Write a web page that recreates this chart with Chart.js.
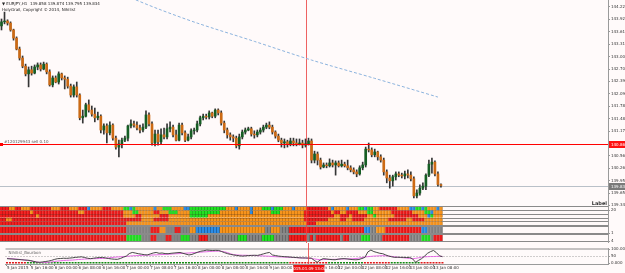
<!DOCTYPE html>
<html>
<head>
<meta charset="utf-8">
<script src="https://cdn.jsdelivr.net/npm/chart.js@4.4.1/dist/chart.umd.min.js"></script>
<style>
html, body { margin: 0; padding: 0; background: #fffafa; }
#wrap { position: relative; width: 625px; height: 273px; overflow: hidden; background: #fffafa; }
#wrap canvas { position: absolute; left: 0; }
</style>
</head>
<body>
<div id="wrap">
	<canvas id="main" width="625" height="206" style="top:0"></canvas>
	<canvas id="heat" width="625" height="37" style="top:206px"></canvas>
	<canvas id="osc" width="625" height="30" style="top:243px"></canvas>
</div>
<script>
// EURJPY H1 candles
var opens = [
	143.76,143.86,143.88,143.83,143.66,143.46,143.19,142.97,142.77,142.58,
	142.68,142.60,142.75,142.80,142.70,142.82,142.63,142.31,142.48,142.38,
	142.58,142.48,142.45,142.28,142.06,142.26,142.06,141.50,141.54,141.82,
	141.69,141.59,141.50,141.54,141.20,141.30,141.13,141.32,141.00,140.78,
	140.86,140.95,141.00,141.30,141.35,141.32,141.25,141.20,141.27,141.57,
	141.35,140.88,141.10,140.91,141.08,141.03,141.23,141.27,141.08,140.95,
	141.32,141.13,140.95,141.03,141.18,141.20,141.35,141.50,141.54,141.52,
	141.62,141.54,141.69,141.62,141.37,141.20,141.08,141.03,141.00,140.81,
	141.03,141.15,141.20,141.23,141.10,141.08,141.15,141.20,141.27,141.32,
	141.27,141.15,141.05,140.95,140.88,140.91,140.86,140.93,140.88,140.86,
	140.88,140.83,140.86,140.93,140.46,140.61,140.46,140.29,140.34,140.32,
	140.39,140.34,140.39,140.32,140.36,140.32,140.27,140.22,140.17,140.12,
	140.27,140.34,140.73,140.71,140.59,140.66,140.54,140.46,140.17,140.02,
	139.95,140.05,140.12,140.09,140.07,140.12,140.09,140.00,139.58,139.65,
	139.77,139.82,140.09,140.36,140.41,140.12,139.858
];
var highs = [
	143.93,144.10,143.91,143.86,143.68,143.49,143.24,143.02,142.82,142.75,
	142.77,142.80,142.85,142.85,142.87,142.85,142.68,142.53,142.53,142.63,
	142.60,142.53,142.50,142.33,142.31,142.38,142.09,141.69,141.86,141.94,
	141.79,141.74,141.64,141.57,141.35,141.35,141.40,141.35,141.05,140.95,
	141.00,141.05,141.32,141.45,141.42,141.40,141.32,141.35,141.67,141.62,
	141.40,141.20,141.20,141.23,141.25,141.35,141.40,141.32,141.20,141.37,
	141.37,141.18,141.10,141.23,141.25,141.42,141.54,141.59,141.59,141.67,
	141.64,141.72,141.72,141.67,141.42,141.25,141.13,141.08,141.05,141.10,
	141.20,141.25,141.27,141.27,141.18,141.20,141.25,141.32,141.37,141.40,
	141.32,141.18,141.10,141.00,140.98,140.95,141.00,141.00,140.98,140.98,
	140.95,140.98,141.00,140.98,140.68,140.66,140.51,140.39,140.39,140.49,
	140.46,140.44,140.44,140.46,140.41,140.46,140.32,140.27,140.22,140.32,
	140.41,140.78,140.88,140.76,140.73,140.68,140.59,140.51,140.22,140.09,
	140.09,140.17,140.17,140.14,140.19,140.22,140.17,140.05,139.73,139.85,
	139.90,140.12,140.46,140.51,140.44,140.17,139.874
];
var lows = [
	143.66,143.81,143.78,143.63,143.41,143.17,142.92,142.73,142.53,142.26,
	142.55,142.58,142.68,142.65,142.68,142.58,142.28,142.26,142.36,142.33,
	142.43,142.21,142.23,142.01,142.01,142.01,141.45,141.37,141.52,141.64,
	141.54,141.40,141.45,141.13,141.10,140.88,141.08,140.95,140.73,140.54,
	140.76,140.91,140.93,141.25,141.27,141.20,141.13,141.15,141.23,141.30,
	140.83,140.81,140.83,140.86,140.98,140.98,141.15,141.03,140.93,140.93,
	141.08,140.91,140.93,140.98,141.10,141.15,141.30,141.45,141.47,141.47,
	141.50,141.50,141.57,141.32,141.13,141.00,140.95,140.91,140.76,140.73,
	140.98,141.10,141.18,141.05,141.00,141.03,141.10,141.15,141.23,141.23,
	141.10,141.00,140.91,140.78,140.76,140.78,140.81,140.81,140.81,140.83,
	140.76,140.78,140.83,140.39,140.39,140.34,140.24,140.27,140.27,140.29,
	140.29,140.09,140.29,140.29,140.29,140.22,140.17,140.12,140.05,140.09,
	140.22,140.29,140.66,140.54,140.54,140.46,140.41,140.09,139.90,139.77,
	139.82,139.97,140.05,140.02,140.00,140.02,139.95,139.53,139.53,139.60,
	139.73,139.73,140.05,140.14,140.07,139.82,139.795
];
var closes = [
	143.86,143.88,143.83,143.66,143.46,143.19,142.97,142.77,142.58,142.68,
	142.60,142.75,142.80,142.70,142.82,142.63,142.31,142.48,142.38,142.58,
	142.48,142.45,142.28,142.06,142.26,142.06,141.50,141.54,141.82,141.69,
	141.59,141.50,141.54,141.20,141.30,141.13,141.32,141.00,140.78,140.86,
	140.95,141.00,141.30,141.35,141.32,141.25,141.20,141.27,141.57,141.35,
	140.88,141.10,140.91,141.08,141.03,141.23,141.27,141.08,140.95,141.32,
	141.13,140.95,141.03,141.18,141.20,141.35,141.50,141.54,141.52,141.62,
	141.54,141.69,141.62,141.37,141.20,141.08,141.03,141.00,140.81,141.03,
	141.15,141.20,141.23,141.10,141.08,141.15,141.20,141.27,141.32,141.27,
	141.15,141.05,140.95,140.88,140.91,140.86,140.93,140.88,140.86,140.88,
	140.83,140.86,140.93,140.46,140.61,140.46,140.29,140.34,140.32,140.39,
	140.34,140.39,140.32,140.36,140.32,140.27,140.22,140.17,140.12,140.27,
	140.34,140.73,140.71,140.59,140.66,140.54,140.46,140.17,140.02,139.95,
	140.05,140.12,140.09,140.07,140.12,140.09,140.00,139.58,139.65,139.77,
	139.82,140.09,140.36,140.41,140.12,139.86,139.834
];

// dashed moving average (only where it is inside the window)
var maBars   = [40, 52, 65, 84, 103, 124, 145];
var maValues = [144.54, 144.18, 143.83, 143.38, 142.92, 142.47, 142.01];

var orderPrice = 140.86;
var orderText  = '#120129943 sell 0.10';
var lastPrice  = 139.834;
var markerBar  = 101;
var markerText = '2015.01.09 13:00';
var headerLine1 = '\u25BC EURJPY,H1  139.858 139.874 139.795 139.834';
var headerLine2 = 'HolyGrail, Copyright \u00A9 2014, Nihilist';

var priceTicks = [144.225,143.920,143.615,143.310,143.005,142.700,142.395,142.090,141.785,
	141.480,141.175,140.870,140.565,140.260,139.955,139.650,139.345];

var tickBars = [0,8,16,24,32,40,48,56,64,72,80,88,96,104,111,119,127,135,143];
var tickLabels = ['5 Jan 2015','5 Jan 16:00','6 Jan 00:00','6 Jan 08:00','6 Jan 16:00',
	'7 Jan 00:00','7 Jan 08:00','7 Jan 16:00','8 Jan 00:00','8 Jan 08:00','8 Jan 16:00',
	'9 Jan 00:00','9 Jan 08:00','9 Jan 16:00','12 Jan 00:00','12 Jan 08:00','12 Jan 16:00',
	'13 Jan 00:00','13 Jan 08:00'];

// signal matrix: R red, O orange, B blue, G green, A grey (run-length per row)
var heatRow1 = 'R3 O2 R2 O3 R3 R4 O3 R3 O3 R3 B1 O4 R3 O4 G2 B1 G1 O2 O4 B1 O2 G3 O2 O2 B2 G12 O3 B1 O2 O2 B1 O3 G3 B1 G3 O3 B1 O3 O1 R7 O1 B1 O2 O2 B1 O3 G2 B1 G2 O2 R6 O4 B2 G2 B1 G1 O3 B1 O1';
var heatRow2 = 'R10 O1 R15 O2 R13 O3 G2 O5 R2 O3 G3 O4 G10 O2 O8 B1 O6 G3 O8 R9 O1 R2 O2 R4 O3 G2 O6 R7 O4 G2 B1 O3';
var heatRow3 = 'R12 O1 R28 O4 R2 O6 R3 O7 G6 O6 O26 R10 O2 R3 O1 R5 O2 G1 O6 R8 O3 B1 G1 O3';
var heatRow4 = 'R2 O2 R37 R6 O4 R5 O7 O38 R8 O4 R2 O2 R4 O8 R6 O2 R4 O6';
var heatRow5 = 'R42 O60 R3 O42';
var heatRow6 = 'R42 A8 R3 O2 A3 R2 A3 O2 B8 O15 A2 O3 A3 R25 B2 A2 O3 R12 B2 A5';
var heatRow7 = 'R42 G5 A3 R2 A3 R2 A3 G3 A3 R3 A10 G3 A5 G4 A5 R6 A1 R1 A1 R8 A1 R2 A4 G3 A4 R9 A4 G3 A1 R3';
var heatAxisLabels = { 33: '20', 10: '1', 2: '4' };

// oscillator window
var oscMain = [32,30,29,27,26,24,22,21,18,12,7,6,9,12,15,20,27,32,33,35,34,36,38,41,43,45,40,35,32,
	35,38,40,41,37,33,30,28,27,33,42,50,68,76,72,67,64,60,58,65,72,76,70,72,68,67,70,72,74,76,70,
	64,58,62,70,78,85,88,93,91,90,91,90,82,74,67,62,58,55,52,50,52,54,55,56,55,60,66,72,76,
	58,54,50,48,46,45,43,41,40,38,37,37,36,36,20,6,22,32,30,27,25,24,28,31,32,30,27,25,24,
	26,33,41,80,93,82,76,70,67,58,50,45,41,42,41,41,40,41,30,6,20,32,50,70,82,90,74,52,46];
var oscSignal = [34,33,31,29,27,25,22,19,16,12,8,5,4,4,6,9,12,15,17,19,20,21,22,24,26,27,29,
	30,31,32,32,33,33,35,37,40,42,44,45,47,48,50,52,53,54,55,56,57,57,58,59,60,61,62,63,
	64,66,67,68,70,71,72,74,75,77,78,80,81,83,84,85,85,84,80,74,66,60,58,57,56,56,
	55,55,54,53,52,51,50,49,47,46,45,44,43,42,41,40,39,38,37,36,35,33,30,27,24,
	25,26,27,27,27,28,29,30,30,31,31,33,36,40,44,46,48,50,51,52,53,52,50,48,45,
	42,40,38,36,33,32,34,38,42,45,46,47,47,48,48,48];
var signalRow = 'R7 G88 R13 G12 R9 G10 R8';
var signalLevel = 2;
var oscTicks = { 100: '100.000', 50: '50', 0: '0.000' };
var oscName = 'Nihilist_Bourbon';

( function () {
	'use strict';

	var SLOTS = 202; // visible bar slots, the chart is shifted left of the right edge
	var AXIS_W = 17;
	var FONT = 'DejaVu Sans';
	var BULL = '#165e24', BEAR = '#cc6a14', WICK = '#353535';
	var heatFill = { R: '#f01c1c', O: '#f7941d', B: '#2b8ce6', G: '#22e022', A: '#858585' };
	var heatEdge = { R: '#b31414', O: '#c4720f', B: '#1c5d9a', G: '#15a615', A: '#5e5e5e' };
	var signalColours = { R: '#e01818', G: '#118a11' };
	var ROW_SPANS = [ [32.8,36.5], [29.1,32.8], [25.4,29.1], [21.7,25.4], [18,21.7], [10,17], [2,9] ];
	var OUTER_LINES = [36.5, 18, 17, 10, 9, 2];
	var INNER_LINES = [32.8, 29.1, 25.4, 21.7];

	Chart.defaults.font.family = FONT;
	Chart.defaults.animation = false;

	function decodeRuns( s ) {
		var out = [];
		s.split( ' ' ).forEach( function ( tok ) {
			var n = parseInt( tok.slice( 1 ), 10 );
			for ( var k = 0; k < n; k++ ) out.push( tok.charAt( 0 ) );
		} );
		return out;
	}

	function fixAxisWidth( axis ) {
		axis.width = AXIS_W;
		axis.paddingTop = 0;
		axis.paddingBottom = 0;
	}

	function hline( ctx, x0, x1, y ) {
		ctx.beginPath(); ctx.moveTo( x0, y ); ctx.lineTo( x1, y ); ctx.stroke();
	}

	function vline( ctx, x, y0, y1 ) {
		ctx.beginPath(); ctx.moveTo( x, y0 ); ctx.lineTo( x, y1 ); ctx.stroke();
	}

	function markerX( chart ) {
		return Math.round( chart.scales.x.getPixelForValue( markerBar ) ) + 0.5;
	}

	var slotLabels = [];
	for ( var s = 0; s < SLOTS; s++ ) slotLabels.push( String( s ) );

	var tickMap = {};
	tickBars.forEach( function ( b, k ) { tickMap[ b ] = tickLabels[ k ]; } );

	// ---------- main price window ----------
	var bodyData = opens.map( function ( o, i ) { return [ o, closes[ i ] ]; } );
	var bodyColours = opens.map( function ( o, i ) { return closes[ i ] >= o ? BULL : BEAR; } );
	var wickData = lows.map( function ( l, i ) { return [ l, highs[ i ] ]; } );
	var maData = slotLabels.map( function () { return null; } );
	maBars.forEach( function ( b, k ) { maData[ b ] = maValues[ k ]; } );

	var mainOverlay = {
		id: 'mainOverlay',
		beforeDatasetsDraw: function ( chart ) {
			var ctx = chart.ctx, a = chart.chartArea, y = chart.scales.y;
			ctx.save();
			ctx.lineWidth = 1;
			ctx.strokeStyle = '#b9c0c8';
			hline( ctx, a.left, a.right, Math.round( y.getPixelForValue( lastPrice ) ) + 0.5 );
			ctx.strokeStyle = 'rgba(235,70,70,0.85)';
			vline( ctx, markerX( chart ), a.top, chart.height );
			ctx.restore();
		},
		afterDraw: function ( chart ) {
			var ctx = chart.ctx, a = chart.chartArea, y = chart.scales.y;
			ctx.save();
			var oy = Math.round( y.getPixelForValue( orderPrice ) ) + 0.5;
			ctx.strokeStyle = '#ff0000';
			ctx.lineWidth = 1;
			hline( ctx, a.left, a.right, oy );
			ctx.fillStyle = '#ff0000';
			ctx.fillRect( a.left, oy - 1.5, 3, 3 );

			ctx.font = '4px "' + FONT + '"';
			ctx.textAlign = 'left';
			ctx.textBaseline = 'alphabetic';
			ctx.fillStyle = '#555';
			ctx.fillText( orderText, a.left + 4, oy - 2 );

			ctx.fillStyle = '#222';
			ctx.fillText( headerLine1, 2, 5 );
			ctx.fillText( headerLine2, 2, 11 );

			ctx.font = 'bold 5px "' + FONT + '"';
			ctx.textAlign = 'right';
			ctx.fillStyle = '#333';
			ctx.fillText( 'Label', a.right - 1, chart.height - 1 );

			// price boxes on the axis
			ctx.font = '4px "' + FONT + '"';
			ctx.textAlign = 'left';
			ctx.textBaseline = 'middle';
			[ [ orderPrice, '#ff1010' ], [ lastPrice, '#7a7a7a' ] ].forEach( function ( p ) {
				var py = Math.round( y.getPixelForValue( p[ 0 ] ) );
				ctx.fillStyle = p[ 1 ];
				ctx.fillRect( a.right + 1, py - 3, chart.width - a.right - 1, 7 );
				ctx.fillStyle = '#fff';
				ctx.fillText( p[ 0 ].toFixed( 3 ), a.right + 3, py + 0.5 );
			} );
			ctx.restore();
		}
	};

	new Chart( document.getElementById( 'main' ), {
		type: 'bar',
		data: {
			labels: slotLabels,
			datasets: [
				{
					type: 'line',
					data: maData,
					borderColor: '#8cb3dd',
					borderWidth: 1,
					borderDash: [ 3, 2 ],
					pointRadius: 0,
					spanGaps: true,
					tension: 0.3,
					order: 0
				},
				{
					data: bodyData,
					backgroundColor: bodyColours,
					barThickness: 2,
					grouped: false,
					order: 1
				},
				{
					data: wickData,
					backgroundColor: WICK,
					barThickness: 1,
					grouped: false,
					order: 2
				}
			]
		},
		options: {
			responsive: false,
			layout: { padding: 0 },
			plugins: { legend: { display: false }, tooltip: { enabled: false } },
			scales: {
				x: { display: false, offset: true },
				y: {
					position: 'right',
					min: 139.331,
					max: 144.397,
					afterFit: fixAxisWidth,
					afterBuildTicks: function ( axis ) {
						axis.ticks = priceTicks.map( function ( v ) { return { value: v }; } );
					},
					border: { display: true, color: '#9a9a9a' },
					grid: { drawOnChartArea: false, tickLength: 2, color: '#9a9a9a' },
					ticks: {
						autoSkip: false,
						padding: 1,
						color: '#333',
						font: { size: 4 },
						callback: function ( v ) { return Number( v ).toFixed( 3 ); }
					}
				}
			}
		},
		plugins: [ mainOverlay ]
	} );

	// ---------- signal matrix window ----------
	var heatRows = [ heatRow1, heatRow2, heatRow3, heatRow4, heatRow5, heatRow6, heatRow7 ].map( decodeRuns );
	var lastBar = opens.length - 1;

	var heatOverlay = {
		id: 'heatOverlay',
		afterDatasetsDraw: function ( chart ) {
			var ctx = chart.ctx, a = chart.chartArea, x = chart.scales.x, y = chart.scales.y;
			var dataEnd = Math.round( x.getPixelForValue( lastBar ) + 1.5 );
			ctx.save();
			ctx.lineWidth = 1;
			ctx.strokeStyle = 'rgba(70,50,40,0.28)';
			INNER_LINES.forEach( function ( v ) {
				hline( ctx, a.left, dataEnd, Math.round( y.getPixelForValue( v ) ) + 0.5 );
			} );
			ctx.strokeStyle = '#8a8a8a';
			INNER_LINES.forEach( function ( v ) {
				hline( ctx, dataEnd, a.right, Math.round( y.getPixelForValue( v ) ) + 0.5 );
			} );
			OUTER_LINES.forEach( function ( v ) {
				hline( ctx, a.left, a.right, Math.round( y.getPixelForValue( v ) ) + 0.5 );
			} );
			ctx.strokeStyle = 'rgba(235,70,70,0.85)';
			vline( ctx, markerX( chart ), 0, chart.height );
			ctx.restore();
		}
	};

	new Chart( document.getElementById( 'heat' ), {
		type: 'bar',
		data: {
			labels: slotLabels,
			datasets: heatRows.map( function ( codes, r ) {
				return {
					data: codes.map( function () { return ROW_SPANS[ r ]; } ),
					backgroundColor: codes.map( function ( c ) { return heatFill[ c ]; } ),
					borderColor: codes.map( function ( c ) { return heatEdge[ c ]; } ),
					borderWidth: { left: 0, right: 1, top: 0, bottom: 0 },
					borderSkipped: false,
					barPercentage: 1,
					categoryPercentage: 1,
					grouped: false
				};
			} )
		},
		options: {
			responsive: false,
			layout: { padding: 0 },
			plugins: { legend: { display: false }, tooltip: { enabled: false } },
			scales: {
				x: { display: false, offset: true },
				y: {
					position: 'right',
					min: 0,
					max: 37,
					afterFit: fixAxisWidth,
					afterBuildTicks: function ( axis ) {
						axis.ticks = Object.keys( heatAxisLabels ).map( function ( v ) { return { value: Number( v ) }; } );
					},
					border: { display: true, color: '#9a9a9a' },
					grid: { drawOnChartArea: false, tickLength: 2, color: '#9a9a9a' },
					ticks: {
						autoSkip: false,
						padding: 1,
						color: '#333',
						font: { size: 4 },
						callback: function ( v ) { return heatAxisLabels[ v ] || ''; }
					}
				}
			}
		},
		plugins: [ heatOverlay ]
	} );

	// ---------- oscillator window + time axis ----------
	var signalCodes = decodeRuns( signalRow );

	var oscOverlay = {
		id: 'oscOverlay',
		beforeDatasetsDraw: function ( chart ) {
			var ctx = chart.ctx, a = chart.chartArea, y = chart.scales.y;
			ctx.save();
			ctx.lineWidth = 1;
			ctx.strokeStyle = '#8a8a8a';
			hline( ctx, a.left, a.right, a.top + 0.5 );
			ctx.setLineDash( [ 1, 2 ] );
			ctx.strokeStyle = '#a0a0a0';
			hline( ctx, a.left, a.right, Math.round( y.getPixelForValue( 50 ) ) + 0.5 );
			ctx.restore();
		},
		afterDraw: function ( chart ) {
			var ctx = chart.ctx, a = chart.chartArea;
			var mx = markerX( chart );
			ctx.save();
			ctx.lineWidth = 1;
			ctx.strokeStyle = 'rgba(235,70,70,0.85)';
			vline( ctx, mx, 0, a.bottom );

			ctx.font = '4px "' + FONT + '"';
			ctx.textBaseline = 'top';
			ctx.textAlign = 'left';
			ctx.fillStyle = '#666';
			ctx.fillText( oscName, a.left + 3, a.top + 2 );

			ctx.fillStyle = '#ee1111';
			ctx.fillRect( mx - 15, a.bottom + 1, 31, chart.height - a.bottom - 2 );
			ctx.fillStyle = '#fff';
			ctx.textAlign = 'center';
			ctx.textBaseline = 'middle';
			ctx.fillText( markerText, mx, ( a.bottom + chart.height ) / 2 );
			ctx.restore();
		}
	};

	new Chart( document.getElementById( 'osc' ), {
		type: 'line',
		data: {
			labels: slotLabels,
			datasets: [
				{
					data: oscMain,
					borderColor: '#474747',
					borderWidth: 1,
					pointRadius: 0,
					tension: 0
				},
				{
					data: oscSignal,
					borderColor: '#e46ae4',
					borderWidth: 1,
					pointRadius: 0,
					tension: 0
				},
				{
					data: signalCodes.map( function () { return signalLevel; } ),
					showLine: false,
					pointStyle: 'line',
					pointRadius: 1,
					pointBorderWidth: 1.5,
					pointBorderColor: signalCodes.map( function ( c ) { return signalColours[ c ]; } )
				}
			]
		},
		options: {
			responsive: false,
			layout: { padding: 0 },
			plugins: { legend: { display: false }, tooltip: { enabled: false } },
			scales: {
				x: {
					offset: true,
					afterFit: function ( axis ) {
						axis.height = 9;
						axis.paddingLeft = 0;
						axis.paddingRight = 0;
					},
					border: { display: true, color: '#9a9a9a' },
					grid: {
						drawOnChartArea: false,
						tickLength: 2,
						color: function ( c ) { return tickMap[ c.index ] !== undefined ? '#888' : 'rgba(0,0,0,0)'; }
					},
					ticks: {
						autoSkip: false,
						maxRotation: 0,
						align: 'start',
						padding: 0,
						color: '#333',
						font: { size: 4 },
						callback: function ( v, i ) { return tickMap[ i ] || ''; }
					}
				},
				y: {
					position: 'right',
					min: -6,
					max: 104,
					afterFit: fixAxisWidth,
					afterBuildTicks: function ( axis ) {
						axis.ticks = Object.keys( oscTicks ).map( function ( v ) { return { value: Number( v ) }; } );
					},
					border: { display: true, color: '#9a9a9a' },
					grid: { drawOnChartArea: false, tickLength: 2, color: '#9a9a9a' },
					ticks: {
						autoSkip: false,
						padding: 1,
						color: '#333',
						font: { size: 4 },
						callback: function ( v ) { return oscTicks[ v ] || ''; }
					}
				}
			}
		},
		plugins: [ oscOverlay ]
	} );
} )();
</script>
</body>
</html>
